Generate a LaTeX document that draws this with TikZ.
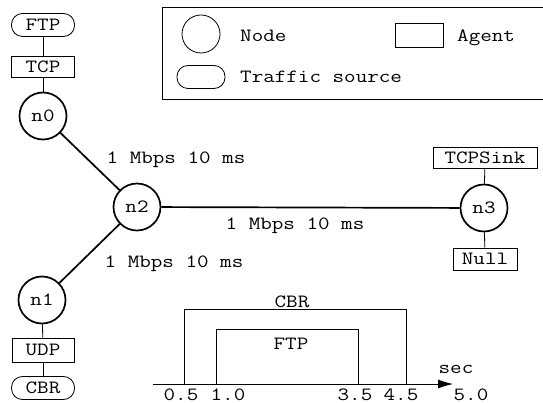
\documentclass[tikz,border=0pt]{standalone}
\usepackage{fontspec}
\newfontfamily\typefont[FakeStretch=1.2]{Latin Modern Mono}
\usetikzlibrary{arrows.meta}
\begin{document}
\begin{tikzpicture}[x=1pt,y=-1pt,
  every node/.style={font=\typefont\fontsize{18.7}{20}\selectfont},
  netnode/.style={circle,draw,line width=1.7pt,minimum size=47pt,inner sep=0pt},
  agent/.style={rectangle,draw,line width=0.8pt,inner sep=0pt},
  source/.style={rectangle,rounded corners=11pt,draw,line width=0.8pt,inner sep=0pt},
  link/.style={line width=1.7pt},
  attach/.style={line width=0.8pt},
  lbl/.style={inner sep=0pt},
  timebar/.style={line width=0.8pt}]
\useasboundingbox (0,0) rectangle (543,403);

% legend
\draw[line width=0.7pt] (162,7) rectangle (547,99);
\node[circle,draw,line width=0.8pt,minimum size=38pt,inner sep=0pt] (legnode) at (201,34) {};
\node[lbl,anchor=base west] (legnodetxt) at (240,41.5) {Node};
\node[agent,minimum width=48pt,minimum height=24pt] (legagent) at (419,35) {};
\node[lbl,anchor=base west] (legagenttxt) at (457,41.5) {Agent};
\node[source,minimum width=48pt,minimum height=23pt] (legsource) at (201,77) {};
\node[lbl,anchor=base west] (legsourcetxt) at (240,83) {Traffic source};

% network nodes, agents and traffic sources
\node[source,minimum width=63pt,minimum height=23pt] (ftp) at (43,25) {FTP};
\node[agent,minimum width=63pt,minimum height=21pt] (tcp) at (43,67) {TCP};
\node[netnode] (n0) at (43,116) {n0};
\node[netnode] (n2) at (137,207) {n2};
\node[netnode] (n3) at (484,208) {n3};
\node[netnode] (n1) at (42,300) {n1};
\node[agent,minimum width=62pt,minimum height=24pt] (udp) at (43,350) {UDP};
\node[source,minimum width=63pt,minimum height=23pt] (cbr) at (43,388) {CBR};
\node[agent,minimum width=104pt,minimum height=21pt] (sink) at (485,158) {TCPSink};
\node[agent,minimum width=64pt,minimum height=22pt] (null) at (485,259) {Null};

% links
\draw[link] (n0) -- (n2);
\draw[link] (n1) -- (n2);
\draw[link] (n2) -- (n3);
\draw[attach] (ftp) -- (tcp);
\draw[attach] (tcp) -- (n0);
\draw[attach] (n1) -- (udp);
\draw[attach] (udp) -- (cbr);
\draw[attach] (sink) -- (n3);
\draw[attach] (n3) -- (null);

% link labels
\node[lbl,anchor=base] (l02) at (176,164) {1 Mbps 10 ms};
\node[lbl,anchor=base] (l23) at (295,230) {1 Mbps 10 ms};
\node[lbl,anchor=base] (l12) at (174,268) {1 Mbps 10 ms};

% timeline
\coordinate (axstart) at (153,384);
\coordinate (axend) at (453,384);
\draw[timebar,-{Latex[length=15pt,width=9pt]}] (axstart) -- (axend);
\draw[timebar] (184,384) |- (406,309) -- (406,384);
\draw[timebar] (216,384) |- (358,329) -- (358,384);
\node[lbl,anchor=base] (tcbr) at (292,307) {CBR};
\node[lbl,anchor=base] (tftp) at (291,349) {FTP};
\node[lbl,anchor=base] (tsec) at (456,373) {sec};
\node[lbl,anchor=base] (t05) at (181,400) {0.5};
\node[lbl,anchor=base] (t10) at (228,400) {1.0};
\node[lbl,anchor=base] (t35) at (355,400) {3.5};
\node[lbl,anchor=base] (t45) at (401,400) {4.5};
\node[lbl,anchor=base] (t50) at (471,400) {5.0};
\end{tikzpicture}
\end{document}
